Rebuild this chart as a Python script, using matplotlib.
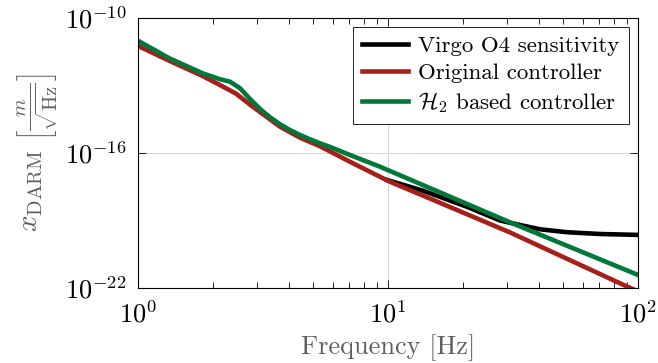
import numpy as np
import matplotlib
matplotlib.use("Agg")
import matplotlib.pyplot as plt

# Data: frequency [Hz] and log10 of amplitude [m/sqrt(Hz)]
f_virgo = [9.91, 13.84, 20.7, 28.05, 30.76, 33.73, 40.55, 51.86, 70.47, 100.0]
y_virgo = [-17.2, -17.68, -18.39, -19.0, -19.1, -19.2, -19.39, -19.52, -19.6, -19.64]

f_orig = [1.0, 1.334, 1.815, 2.128, 2.466, 2.805, 3.192, 3.698, 4.446, 5.346, 7.047,
          10.19, 13.84, 30.76, 84.7, 100.0]
y_orig = [-11.24, -11.9, -12.58, -12.98, -13.36, -13.85, -14.31, -14.83, -15.32, -15.7, -16.39,
          -17.28, -17.9, -19.53, -21.79, -22.15]

f_h2 = [1.0, 1.334, 1.815, 2.128, 2.333, 2.559, 2.805, 3.076, 3.373, 3.698, 4.055, 4.446,
        4.875, 5.346, 5.861, 7.047, 9.29, 30.76, 100.0]
y_h2 = [-11.01, -11.79, -12.46, -12.72, -12.83, -13.12, -13.6, -14.04, -14.41, -14.72, -14.98, -15.2,
        -15.39, -15.57, -15.73, -16.09, -16.61, -19.08, -21.42]

labels = ["Virgo O4 sensitivity", "Original controller", r"$\mathcal{H}_2$ based controller"]
colors = ["black", "#a61f1a", "#00783a"]

plt.rcParams["font.family"] = "serif"
plt.rcParams["font.serif"] = ["cmr10"]
plt.rcParams["mathtext.fontset"] = "cm"
plt.rcParams["axes.formatter.use_mathtext"] = True

fig = plt.figure(figsize=(6.58, 3.63), dpi=100)
ax = fig.add_axes([138/658, 1-288/363, 500/658, 270/363])

lw = 3.3
for f, y, lab, c in zip([f_virgo, f_orig, f_h2], [y_virgo, y_orig, y_h2], labels, colors):
    ax.plot(f, 10**np.array(y), color=c, lw=lw, label=lab, solid_joinstyle="round")

ax.set_xscale("log")
ax.set_yscale("log")
ax.set_xlim(1, 100)
ax.set_ylim(1e-22, 1e-10)
ax.set_yticks([1e-22, 1e-16, 1e-10])
ax.set_yticklabels([r"$10^{-22}$", r"$10^{-16}$", r"$10^{-10}$"])
ax.set_xticks([1, 10, 100])
ax.set_xticklabels([r"$10^{0}$", r"$10^{1}$", r"$10^{2}$"])
ax.yaxis.set_minor_locator(matplotlib.ticker.NullLocator())
ax.xaxis.set_minor_locator(matplotlib.ticker.LogLocator(subs=np.arange(2, 10)))
ax.xaxis.set_minor_formatter(matplotlib.ticker.NullFormatter())
ax.tick_params(which="both", direction="in", top=True, right=True, labelsize=19)
ax.tick_params(which="major", length=6, width=0.6)
ax.tick_params(which="minor", length=4, width=0.6)
ax.tick_params(axis="x", which="major", pad=9)
ax.tick_params(axis="y", which="major", pad=8)
ax.grid(True, which="major", color="#d9d9d9", lw=0.8)
for s in ax.spines.values():
    s.set_linewidth(0.8)

ax.set_xlabel("Frequency [Hz]", fontsize=19, color="#606060", labelpad=5)
ax.set_ylabel(r"$x_{\mathrm{DARM}}\ \left[\frac{m}{\sqrt{\mathrm{Hz}}}\right]$", fontsize=21,
              color="#606060", labelpad=4)

leg = ax.legend(loc="upper right", fontsize=16.5, frameon=True, fancybox=False,
                edgecolor="black", framealpha=1, handlelength=2.0, borderaxespad=0.4,
                labelspacing=0.3, handletextpad=0.45, borderpad=0.4)
leg.get_frame().set_linewidth(0.6)

fig.savefig("out.png", dpi=100)
